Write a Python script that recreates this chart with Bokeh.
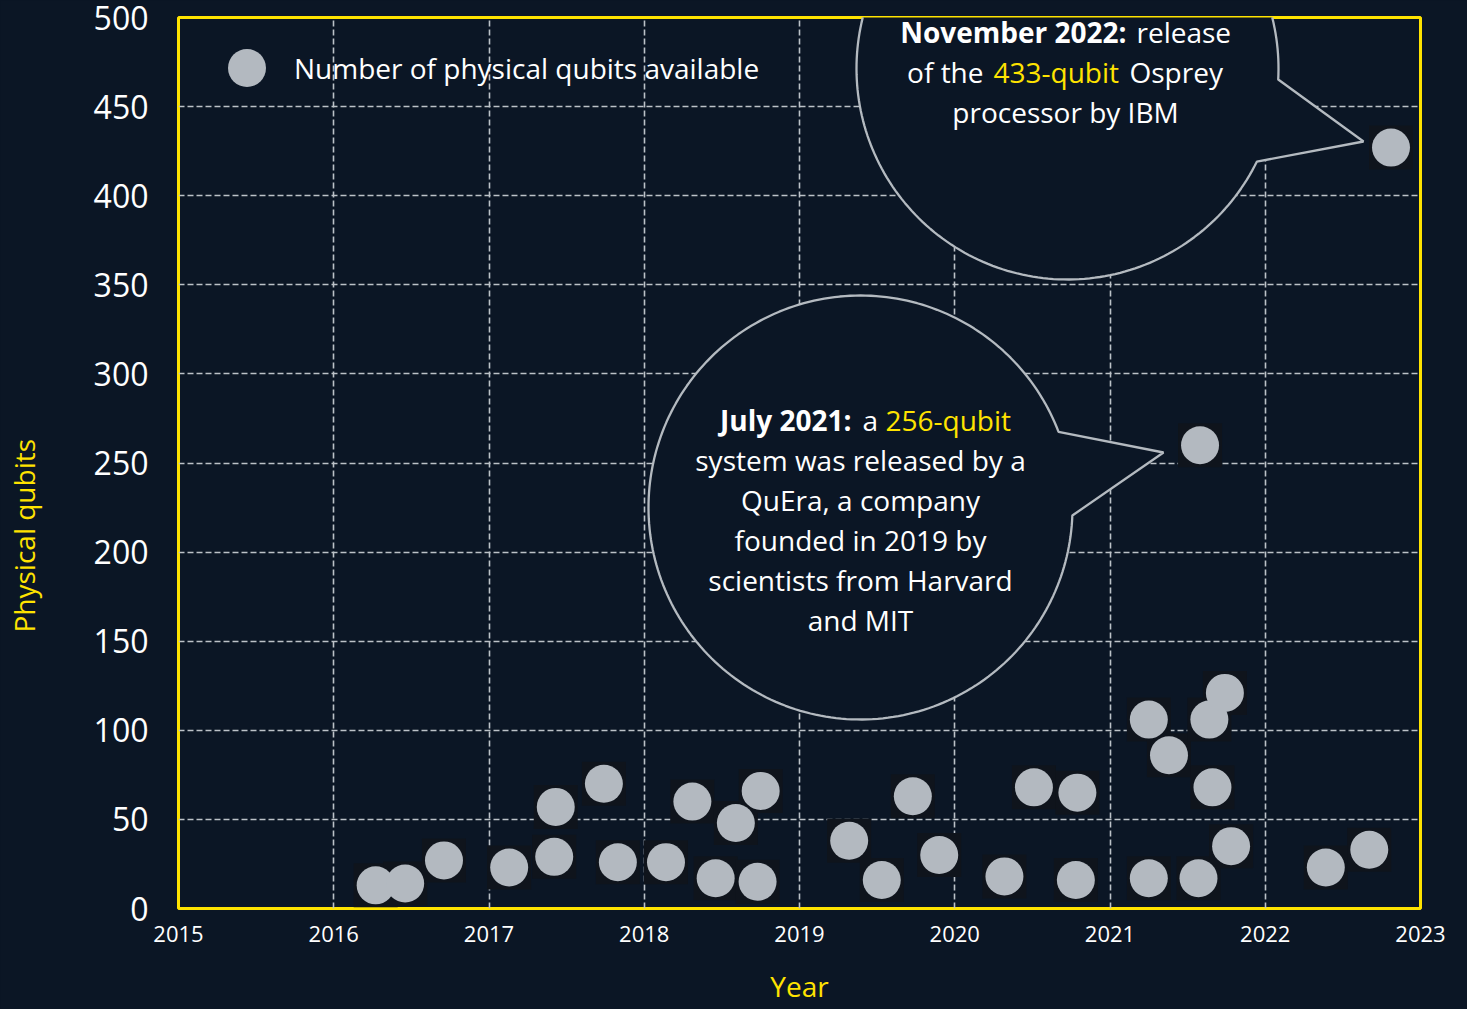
import numpy as np
from bokeh.plotting import figure
from bokeh.models import (FixedTicker, Label, PolyAnnotation, Legend, LegendItem, Range1d)
from bokeh.embed import file_html
from bokeh.resources import INLINE

# ---------------- data ----------------
years = [2016.27, 2016.46, 2016.71, 2017.13, 2017.42, 2017.43, 2017.74, 2017.83,
         2018.14, 2018.31, 2018.46, 2018.59, 2018.73, 2018.75, 2019.32, 2019.53,
         2019.73, 2019.90, 2020.32, 2020.51, 2020.78, 2020.79, 2021.25, 2021.25,
         2021.38, 2021.57, 2021.58, 2021.64, 2021.66, 2021.74, 2021.78, 2022.39,
         2022.67, 2022.81]
qubits = [13, 14, 27, 23, 29, 57, 70, 26,
          26, 60, 17, 48, 15, 66, 38, 16,
          63, 30, 18, 68, 16, 65, 17, 106,
          86, 17, 260, 106, 68, 121, 35, 23,
          33, 427]
x_ticks = [2015, 2016, 2017, 2018, 2019, 2020, 2021, 2022, 2023]
y_ticks = [0, 50, 100, 150, 200, 250, 300, 350, 400, 450, 500]
x_title = "Year"
y_title = "Physical qubits"
legend_label = "Number of physical qubits available"

# ---------------- style ----------------
BG = "#0b1625"
YEL = "#ffe300"
PT = "#b3b9c0"
SQ = "#0f141c"
GRID = "#bcc2c8"
BUB = "#b4bac0"
FONT = "Open Sans"

X0, X1, Y0, Y1 = x_ticks[0], x_ticks[-1], y_ticks[0], y_ticks[-1]
# pixel layout of the frame (for annotation placement)
FX0, FX1, FY0, FY1 = 178.0, 1420.0, 908.0, 17.0
W, H = 1467, 1009


def dx(px):
    return X0 + (px - FX0) * (X1 - X0) / (FX1 - FX0)


def dy(py):
    return Y0 + (FY0 - py) * (Y1 - Y0) / (FY0 - FY1)


p = figure(width=W, height=H, output_backend="svg", toolbar_location=None,
           x_range=Range1d(X0, X1), y_range=Range1d(Y0, Y1),
           min_border_left=int(FX0), min_border_right=int(W - FX1),
           min_border_top=int(FY1), min_border_bottom=int(H - FY0))
p.background_fill_color = BG
p.border_fill_color = BG
p.outline_line_color = YEL
p.outline_line_width = 3

p.xaxis.ticker = FixedTicker(ticks=x_ticks)
p.yaxis.ticker = FixedTicker(ticks=y_ticks)
for ax in (p.xaxis[0], p.yaxis[0]):
    ax.axis_line_color = None
    ax.major_tick_line_color = None
    ax.minor_tick_line_color = None
    ax.major_label_text_color = "#ffffff"
    ax.major_label_text_font = FONT
    ax.axis_label_text_color = YEL
    ax.axis_label_text_font = FONT
    ax.axis_label_text_font_size = "28px"
    ax.axis_label_text_font_style = "normal"
p.xaxis.major_label_text_font_size = "22px"
p.yaxis.major_label_text_font_size = "32px"
p.xaxis.major_label_standoff = 11
p.yaxis.major_label_standoff = 24

p.xaxis.axis_label = x_title
p.xaxis.axis_label_standoff = 22
# the y title sits below the frame's middle: pad its far end with no-break spaces
p.yaxis.axis_label = y_title + "\u00a0" * 20
p.yaxis.axis_label_standoff = 48

for g in (p.xgrid[0], p.ygrid[0]):
    g.grid_line_color = GRID
    g.grid_line_dash = "6 3"
    g.grid_line_width = 1.6

# points
p.scatter(years, qubits, marker="square", size=44, fill_color=SQ, line_color=None)
pts = p.scatter(years, qubits, marker="circle", size=38, fill_color=PT, line_color=None)

legend = Legend(items=[LegendItem(label=legend_label, renderers=[pts])],
                location=(21, 793), glyph_width=95, glyph_height=95,
                label_standoff=-9, padding=0, margin=0, spacing=0,
                border_line_color=None, background_fill_alpha=0,
                label_text_color="#ffffff", label_text_font=FONT,
                label_text_font_size="28px")
p.add_layout(legend)


# speech bubbles
def bubble(cx, cy, r, base_lo, base_up, tip):
    a0 = np.arctan2(base_lo[1] - cy, base_lo[0] - cx)
    a1 = np.arctan2(base_up[1] - cy, base_up[0] - cx)
    if a1 <= a0:
        a1 += 2 * np.pi
    th = np.linspace(a0, a1, 240)
    px = list(cx + r * np.cos(th)) + [tip[0]]
    py = list(cy + r * np.sin(th)) + [tip[1]]
    return PolyAnnotation(xs=[dx(v) for v in px], ys=[dy(v) for v in py],
                          fill_color=BG, fill_alpha=1, line_color=BUB,
                          line_alpha=1, line_width=2.3)


p.add_layout(bubble(1067, 68, 211, (1256, 161), (1277, 79), (1363, 141)))
p.add_layout(bubble(860, 507, 212, (1072, 515), (1059, 431), (1163, 452)))


def txt(px, py, s, align="center", color="#ffffff", bold=False):
    p.add_layout(Label(x=dx(px), y=dy(py), text=s, text_align=align,
                       text_baseline="alphabetic", text_color=color, text_font=FONT,
                       text_font_size="28px",
                       text_font_style="bold" if bold else "normal"))


# November 2022 callout
txt(1126, 31, "November 2022:", "right", bold=True)
txt(1136, 31, "release", "left")
txt(983, 71, "of the", "right")
txt(993, 71, "433-qubit", "left", color=YEL)
txt(1129, 71, "Osprey", "left")
txt(1065, 111, "processor by IBM")

# July 2021 callout
txt(851, 419, "July 2021:", "right", bold=True)
txt(862, 419, "a", "left")
txt(885, 419, "256-qubit", "left", color=YEL)
txt(860, 459, "system was released by a")
txt(860, 499, "QuEra, a company")
txt(860, 539, "founded in 2019 by")
txt(860, 579, "scientists from Harvard")
txt(860, 619, "and MIT")

html = file_html(p, INLINE, title="Physical qubits")
html = html.replace("<head>", "<head><style>html, body {background: %s;}</style>" % BG, 1)
open("out.html", "w").write(html)
